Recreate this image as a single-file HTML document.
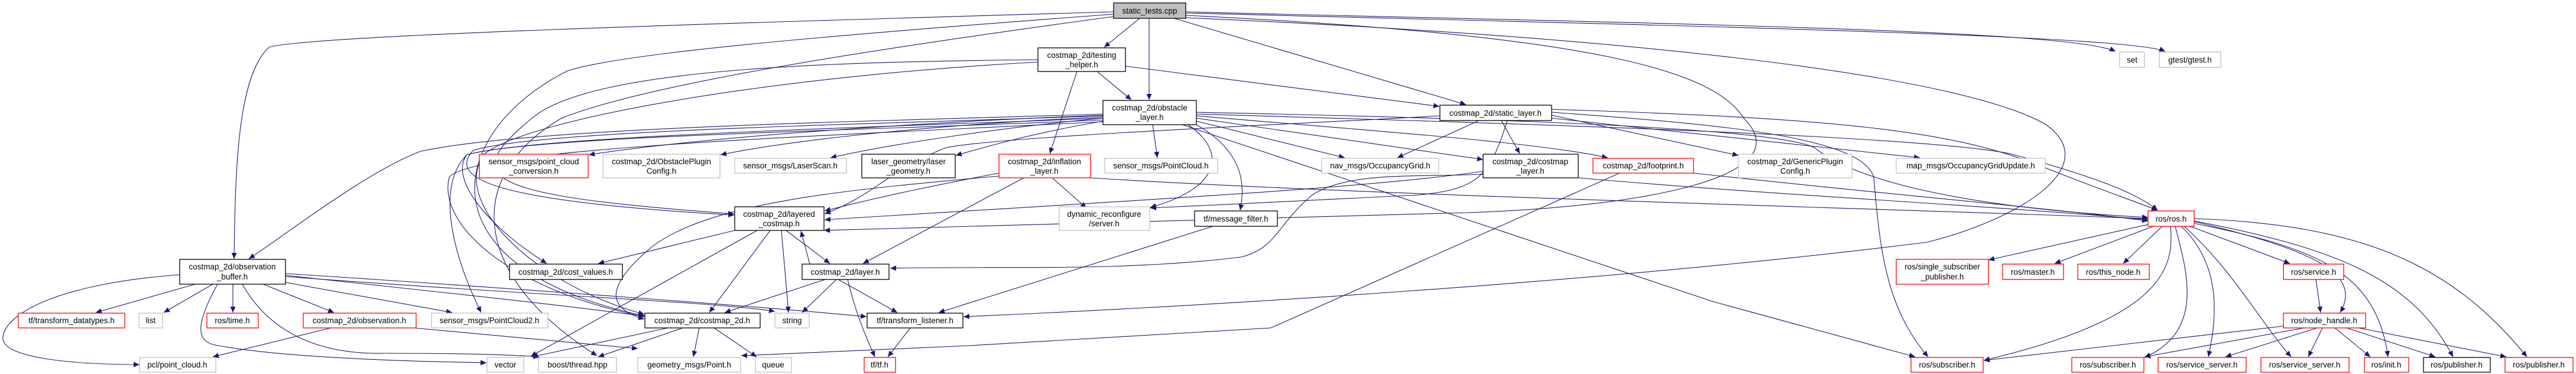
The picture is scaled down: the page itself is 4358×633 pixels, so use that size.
<!DOCTYPE html>
<html><head><meta charset="utf-8"><style>
html,body{margin:0;padding:0;background:#fff;}
svg{display:block;}
text{font-family:"Liberation Sans",sans-serif;font-size:13.5px;fill:#000;text-anchor:middle;}
.e{fill:none;stroke:#191970;stroke-width:1.1;marker-end:url(#a);}
.b{fill:#fff;stroke:#000;stroke-width:1.3;}
.g{fill:#fff;stroke:#bfbfbf;stroke-width:1.3;}
.r{fill:#fff;stroke:#ff0000;stroke-width:1.3;}
</style></head><body>
<svg width="4358" height="633" viewBox="0 0 4358 633" xmlns="http://www.w3.org/2000/svg">
<defs><marker id="a" markerUnits="userSpaceOnUse" markerWidth="11" markerHeight="9" refX="10" refY="4.5" orient="auto"><path d="M0,0 L10,4.5 L0,9 z" fill="#191970"/></marker></defs>

<!-- edges from static_tests -->
<path class="e" d="M1928,31 L1868,80"/>
<path class="e" d="M1944,31 L1944,169"/>
<path class="e" d="M1986,31 L2480,177"/>
<path class="e" d="M1884,20 C1200,40 520,60 455,80 C400,130 398,300 396,438"/>
<path class="e" d="M1884,24 C1400,60 1050,90 960,120 C760,220 700,450 1091,535"/>
<path class="e" d="M1884,28 C1500,80 1100,140 950,200 C780,300 800,470 1010,602"/>
<path class="e" d="M2006,20 C2800,40 3500,50 3579,87"/>
<path class="e" d="M2006,22 C2900,45 3600,60 3663,87"/>
<path class="e" d="M2006,30 C2700,60 3300,120 3460,210 C3560,280 3420,370 3260,410 C2700,480 2000,520 1630,536"/>
<path class="e" d="M2006,26 C2700,60 2900,120 2950,200 C3050,300 2780,350 2480,360 C2000,370 1700,380 1394,390"/>
<!-- testing_helper -->
<path class="e" d="M1856,121 L1914,169"/>
<path class="e" d="M1822,121 L1776,260"/>
<path class="e" d="M1904,112 L2435,180"/>
<path class="e" d="M1756,101 C1400,105 1000,115 900,200 C780,300 800,330 1242,362"/>
<path class="e" d="M1756,105 C1300,130 900,200 820,260 C760,340 900,480 1090,532"/>
<!-- obstacle_layer -->
<path class="e" d="M1866,195 C1600,205 1200,230 996,262"/>
<path class="e" d="M1866,198 C1600,210 1350,235 1219,262"/>
<path class="e" d="M1866,200 C1700,215 1500,245 1405,267"/>
<path class="e" d="M1866,205 C1750,225 1680,245 1617,263"/>
<path class="e" d="M1866,193 C1500,205 900,215 712,256 C620,290 480,400 421,438"/>
<path class="e" d="M1866,196 C1500,210 900,220 800,255 C760,300 820,340 1242,364"/>
<path class="e" d="M1866,200 C1500,215 900,230 790,262 C760,300 820,380 925,446"/>
<path class="e" d="M1866,203 C1500,220 900,230 790,262 C740,310 760,420 814,529"/>
<path class="e" d="M1866,206 C1400,230 800,250 760,300 C740,380 860,490 1090,536"/>
<path class="e" d="M1950,211 L1958,267"/>
<path class="e" d="M2010,211 C2080,260 2060,320 1946,351"/>
<path class="e" d="M2024,211 C2110,260 2105,320 2098,356"/>
<path class="e" d="M2024,205 L2275,267"/>
<path class="e" d="M2024,200 L2509,270"/>
<path class="e" d="M2024,196 C2300,220 2600,240 2720,267"/>
<path class="e" d="M2024,193 C2600,210 3250,230 3400,260 C3550,300 3620,330 3650,356"/>
<path class="e" d="M2000,211 L2900,511 L3240,604"/>
<path class="e" d="M2024,190 C2500,200 3000,215 3070,250 C3130,300 3300,350 3634,368"/>
<!-- static_layer -->
<path class="e" d="M2502,204 L2364,267"/>
<path class="e" d="M2540,204 L2571,260"/>
<path class="e" d="M2625,195 L2941,263"/>
<path class="e" d="M2625,200 L3248,267"/>
<path class="e" d="M2625,185 C3100,200 3300,220 3450,280 C3550,320 3610,340 3650,356"/>
<path class="e" d="M2625,190 C2900,210 3150,230 3170,300 C3180,420 3190,520 3262,604"/>
<path class="e" d="M2436,196 C2200,210 1700,230 1600,250 C1500,290 1480,330 1395,362"/>
<path class="e" d="M2550,204 C2520,300 2500,320 2400,330 C2200,340 2100,345 1946,352"/>
<!-- inflation -->
<path class="e" d="M1780,301 L1838,352"/>
<path class="e" d="M1732,301 L1460,446"/>
<path class="e" d="M1690,293 C1600,310 1500,330 1395,357"/>
<path class="e" d="M1845,301 C2300,330 3100,350 3634,370"/>
<path class="e" d="M1690,298 C1450,320 1200,340 1100,420 C1030,480 1020,520 1090,540"/>
<!-- costmap_layer -->
<path class="e" d="M2509,295 C2400,300 2280,290 2220,330 C2160,380 2160,420 2100,435 C1900,460 1700,450 1506,454"/>
<path class="e" d="M2509,290 C2300,320 1900,340 1395,372"/>
<path class="e" d="M2670,301 C3000,330 3400,350 3634,372"/>
<!-- footprint -->
<path class="e" d="M2740,293 L2150,555 L1640,585 L1254,602"/>
<path class="e" d="M2865,293 C3200,330 3450,350 3634,374"/>
<!-- layered_costmap -->
<path class="e" d="M1243,390 L1012,446"/>
<path class="e" d="M1330,390 L1404,446"/>
<path class="e" d="M1303,390 L1200,529"/>
<path class="e" d="M1322,390 L1334,529"/>
<path class="e" d="M1281,390 L898,603"/>
<!-- layer -->
<path class="e" d="M1370,447 L1355,391"/>
<path class="e" d="M1396,473 L1226,529"/>
<path class="e" d="M1415,473 L1357,529"/>
<path class="e" d="M1418,473 L1518,529"/>
<path class="e" d="M1434,473 C1450,540 1470,580 1480,604"/>
<!-- costmap_2d -->
<path class="e" d="M1130,555 L900,604"/>
<path class="e" d="M1155,555 L1012,604"/>
<path class="e" d="M1183,555 L1173,604"/>
<path class="e" d="M1208,555 L1280,604"/>
<!-- observation_buffer -->
<path class="e" d="M330,481 L162,529"/>
<path class="e" d="M360,481 L277,529"/>
<path class="e" d="M394,481 L394,529"/>
<path class="e" d="M445,481 L565,529"/>
<path class="e" d="M483,478 L765,529"/>
<path class="e" d="M304,465 C100,480 10,530 5,570 C0,610 150,617 236,617"/>
<path class="e" d="M368,481 C330,550 330,580 370,585 C450,600 600,610 823,614"/>
<path class="e" d="M410,481 C460,570 550,600 650,598 C780,598 860,600 912,604"/>
<path class="e" d="M483,466 C700,490 900,510 1090,535"/>
<path class="e" d="M483,468 C900,500 1200,510 1311,527"/>
<path class="e" d="M483,463 C900,490 1300,520 1466,536"/>
<path class="e" d="M560,555 L360,604"/>
<path class="e" d="M700,555 L1079,590"/>
<path class="e" d="M2052,383 L1588,529"/>
<path class="e" d="M1540,555 L1502,604"/>
<!-- ros.h -->
<path class="e" d="M3634,380 L3364,440"/>
<path class="e" d="M3643,383 L3476,446"/>
<path class="e" d="M3658,383 L3592,446"/>
<path class="e" d="M3705,383 L3874,446"/>
<path class="e" d="M3712,375 C3900,420 4000,460 3959,529"/>
<path class="e" d="M3672,383 C3680,460 3650,540 3356,610"/>
<path class="e" d="M3680,383 C3700,460 3730,560 3628,605"/>
<path class="e" d="M3690,383 C3760,450 3750,540 3736,604"/>
<path class="e" d="M3695,383 C3780,460 3820,540 3876,604"/>
<path class="e" d="M3712,378 C3920,420 4020,460 4040,604"/>
<path class="e" d="M3712,374 C3950,420 4080,470 4150,604"/>
<path class="e" d="M3712,370 C4000,380 4150,450 4275,604"/>
<path class="e" d="M3918,473 L3926,529"/>
<path class="e" d="M3863,552 L3356,610"/>
<path class="e" d="M3898,555 L3628,604"/>
<path class="e" d="M3920,555 L3765,604"/>
<path class="e" d="M3929,555 L3905,604"/>
<path class="e" d="M3950,555 L4010,604"/>
<path class="e" d="M3970,555 L4120,604"/>
<path class="e" d="M3990,555 L4240,604"/>

<!-- nodes -->
<rect x="1884" y="5" width="122" height="26" fill="#bfbfbf" stroke="#000" stroke-width="1.3"/><text x="1945" y="23">static_tests.cpp</text>
<rect class="b" x="1756" y="81" width="148" height="40"/><text x="1830" y="98">costmap_2d/testing</text><text x="1830" y="114">_helper.h</text>
<rect class="b" x="1866" y="170" width="158" height="41"/><text x="1945" y="187">costmap_2d/obstacle</text><text x="1945" y="203">_layer.h</text>
<rect class="b" x="2436" y="178" width="189" height="26"/><text x="2530" y="196">costmap_2d/static_layer.h</text>
<rect class="g" x="3586" y="88" width="42" height="26"/><text x="3607" y="106">set</text>
<rect class="g" x="3653" y="88" width="104" height="26"/><text x="3705" y="106">gtest/gtest.h</text>

<rect class="r" x="811" y="261" width="184" height="40"/><text x="903" y="278">sensor_msgs/point_cloud</text><text x="903" y="294">_conversion.h</text>
<rect class="g" x="1020" y="261" width="198" height="40"/><text x="1119" y="278">costmap_2d/ObstaclePlugin</text><text x="1119" y="294">Config.h</text>
<rect class="g" x="1243" y="268" width="189" height="25"/><text x="1337" y="285">sensor_msgs/LaserScan.h</text>
<rect class="b" x="1458" y="261" width="158" height="40"/><text x="1537" y="278">laser_geometry/laser</text><text x="1537" y="294">_geometry.h</text>
<rect class="r" x="1690" y="261" width="155" height="40"/><text x="1767" y="278">costmap_2d/inflation</text><text x="1767" y="294">_layer.h</text>
<rect class="g" x="1869" y="268" width="191" height="25"/><text x="1964" y="285">sensor_msgs/PointCloud.h</text>
<rect class="g" x="2236" y="268" width="198" height="25"/><text x="2335" y="285">nav_msgs/OccupancyGrid.h</text>
<rect class="b" x="2509" y="261" width="161" height="40"/><text x="2589" y="278">costmap_2d/costmap</text><text x="2589" y="294">_layer.h</text>
<rect class="r" x="2695" y="268" width="170" height="25"/><text x="2780" y="285">costmap_2d/footprint.h</text>
<rect class="g" x="2941" y="261" width="192" height="40"/><text x="3037" y="278">costmap_2d/GenericPlugin</text><text x="3037" y="294">Config.h</text>
<rect class="g" x="3208" y="268" width="252" height="25"/><text x="3334" y="285">map_msgs/OccupancyGridUpdate.h</text>

<rect class="b" x="1243" y="350" width="151" height="40"/><text x="1318" y="367">costmap_2d/layered</text><text x="1318" y="383">_costmap.h</text>
<rect class="g" x="1792" y="350" width="153" height="40"/><text x="1868" y="367">dynamic_reconfigure</text><text x="1868" y="383">/server.h</text>
<rect class="b" x="2021" y="357" width="140" height="26"/><text x="2091" y="375">tf/message_filter.h</text>
<rect class="r" x="3634" y="357" width="78" height="26"/><text x="3673" y="375">ros/ros.h</text>

<rect class="b" x="304" y="439" width="179" height="42"/><text x="393" y="456">costmap_2d/observation</text><text x="393" y="473">_buffer.h</text>
<rect class="b" x="862" y="447" width="191" height="26"/><text x="957" y="465">costmap_2d/cost_values.h</text>
<rect class="b" x="1357" y="447" width="147" height="26"/><text x="1430" y="465">costmap_2d/layer.h</text>
<rect class="r" x="3208" y="439" width="156" height="42"/><text x="3286" y="456">ros/single_subscriber</text><text x="3286" y="473">_publisher.h</text>
<rect class="r" x="3388" y="447" width="103" height="26"/><text x="3439" y="465">ros/master.h</text>
<rect class="r" x="3515" y="447" width="121" height="26"/><text x="3575" y="465">ros/this_node.h</text>
<rect class="r" x="3863" y="447" width="102" height="26"/><text x="3914" y="465">ros/service.h</text>

<rect class="r" x="31" y="530" width="180" height="25"/><text x="121" y="547">tf/transform_datatypes.h</text>
<rect class="g" x="235" y="530" width="40" height="25"/><text x="255" y="547">list</text>
<rect class="r" x="350" y="530" width="87" height="25"/><text x="393" y="547">ros/time.h</text>
<rect class="r" x="513" y="530" width="191" height="25"/><text x="608" y="547">costmap_2d/observation.h</text>
<rect class="g" x="730" y="530" width="197" height="25"/><text x="828" y="547">sensor_msgs/PointCloud2.h</text>
<rect class="b" x="1091" y="530" width="195" height="25"/><text x="1188" y="547">costmap_2d/costmap_2d.h</text>
<rect class="g" x="1311" y="530" width="58" height="25"/><text x="1340" y="547">string</text>
<rect class="b" x="1467" y="530" width="162" height="25"/><text x="1548" y="547">tf/transform_listener.h</text>
<rect class="r" x="3863" y="530" width="139" height="25"/><text x="3932" y="547">ros/node_handle.h</text>

<rect class="g" x="236" y="605" width="129" height="25"/><text x="300" y="622">pcl/point_cloud.h</text>
<rect class="g" x="824" y="605" width="62" height="25"/><text x="855" y="622">vector</text>
<rect class="g" x="911" y="605" width="132" height="25"/><text x="977" y="622">boost/thread.hpp</text>
<rect class="g" x="1079" y="605" width="174" height="25"/><text x="1166" y="622">geometry_msgs/Point.h</text>
<rect class="g" x="1278" y="605" width="61" height="25"/><text x="1308" y="622">queue</text>
<rect class="r" x="1462" y="605" width="53" height="25"/><text x="1488" y="622">tf/tf.h</text>
<rect class="r" x="3233" y="605" width="122" height="25"/><text x="3294" y="622">ros/subscriber.h</text>
<rect class="r" x="3505" y="605" width="122" height="25"/><text x="3566" y="622">ros/subscriber.h</text>
<rect class="r" x="3651" y="605" width="149" height="25"/><text x="3725" y="622">ros/service_server.h</text>
<rect class="r" x="3825" y="605" width="149" height="25"/><text x="3899" y="622">ros/service_server.h</text>
<rect class="r" x="4000" y="605" width="75" height="25"/><text x="4037" y="622">ros/init.h</text>
<rect class="b" x="4100" y="605" width="113" height="25"/><text x="4156" y="622">ros/publisher.h</text>
<rect class="r" x="4238" y="605" width="115" height="25"/><text x="4295" y="622">ros/publisher.h</text>
</svg>
</body></html>
